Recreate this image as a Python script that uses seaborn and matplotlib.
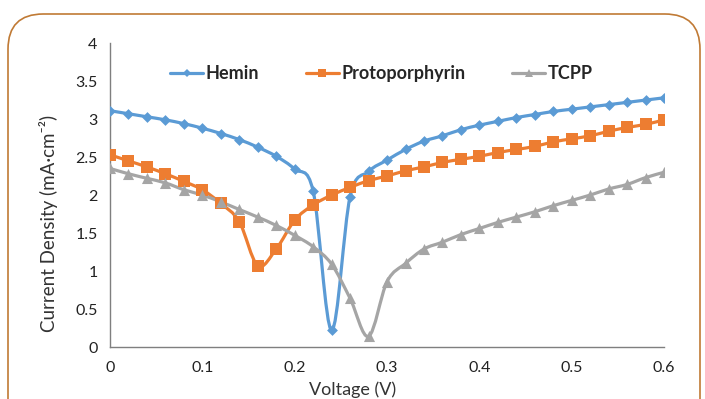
import numpy as np
import pandas as pd
import seaborn as sns
import matplotlib
matplotlib.use("Agg")
import matplotlib.pyplot as plt
from matplotlib.path import Path
from matplotlib.patches import PathPatch, FancyBboxPatch
from matplotlib.lines import Line2D

# Voltage sweep (V)
voltage = [round(0.02 * i, 2) for i in range(31)]

# Current density (mA·cm⁻²)
hemin = [3.11, 3.07, 3.03, 2.99, 2.94, 2.88, 2.81, 2.73, 2.63, 2.51, 2.34,
         2.05, 0.22, 1.98, 2.31, 2.46, 2.60, 2.71, 2.78, 2.86, 2.92, 2.97,
         3.02, 3.06, 3.10, 3.13, 3.16, 3.19, 3.22, 3.25, 3.28]
protoporphyrin = [2.53, 2.45, 2.37, 2.28, 2.18, 2.07, 1.89, 1.65, 1.07, 1.29,
                  1.67, 1.87, 2.00, 2.10, 2.19, 2.25, 2.32, 2.37, 2.43, 2.47,
                  2.51, 2.56, 2.60, 2.64, 2.70, 2.74, 2.78, 2.84, 2.89, 2.93,
                  2.99]
tcpp = [2.35, 2.28, 2.22, 2.16, 2.07, 2.00, 1.91, 1.81, 1.71, 1.60, 1.47,
        1.32, 1.09, 0.64, 0.14, 0.86, 1.10, 1.29, 1.38, 1.48, 1.56, 1.64,
        1.71, 1.78, 1.86, 1.93, 2.00, 2.08, 2.14, 2.23, 2.30]

series_names = ["Hemin", "Protoporphyrin", "TCPP"]
series_values = [hemin, protoporphyrin, tcpp]
x_tick_labels = ["0", "0.1", "0.2", "0.3", "0.4", "0.5", "0.6"]
y_tick_labels = ["0", "0.5", "1", "1.5", "2", "2.5", "3", "3.5", "4"]

colors = {"Hemin": "#5B9BD5", "Protoporphyrin": "#ED7D31", "TCPP": "#A5A5A5"}
markers = {"Hemin": "D", "Protoporphyrin": "s", "TCPP": "^"}
marker_sizes = {"Hemin": 5.5, "Protoporphyrin": 8, "TCPP": 8}

df = pd.concat(
    [pd.DataFrame({"Voltage": voltage, "Current": v, "Sample": n})
     for n, v in zip(series_names, series_values)],
    ignore_index=True,
)

sns.set_theme(style="white")
plt.rcParams["font.family"] = ["Lato", "DejaVu Sans"]

fig = plt.figure(figsize=(7.05, 3.99), dpi=100)
ax = fig.add_axes([0.156, 0.1303, 0.786, 0.7617])


def smooth_path(xs, ys):
    """Catmull-Rom style smoothed curve through the points, as cubic Beziers."""
    p = np.column_stack([xs, ys])
    n = len(p)
    verts = [p[0]]
    codes = [Path.MOVETO]
    for i in range(n - 1):
        p0 = p[i - 1] if i > 0 else p[i]
        p1 = p[i]
        p2 = p[i + 1]
        p3 = p[i + 2] if i + 2 < n else p[i + 1]
        c1 = p1 + (p2 - p0) / 6.0
        c2 = p2 - (p3 - p1) / 6.0
        verts += [c1, c2, p2]
        codes += [Path.CURVE4] * 3
    return Path(verts, codes)


for name in series_names:
    sub = df[df["Sample"] == name]
    patch = PathPatch(smooth_path(sub["Voltage"].values, sub["Current"].values),
                      facecolor="none", edgecolor=colors[name], lw=2.3,
                      zorder=2, capstyle="round", joinstyle="round")
    ax.add_patch(patch)
    sns.scatterplot(data=sub, x="Voltage", y="Current", ax=ax,
                    color=colors[name], marker=markers[name],
                    s=marker_sizes[name] ** 2, linewidth=0, zorder=3,
                    legend=False)

ax.set_xlim(0, 0.6)
ax.set_ylim(0, 4)
ax.set_xticks(np.arange(0, 0.61, 0.1))
ax.set_xticklabels(x_tick_labels)
ax.set_yticks(np.arange(0, 4.01, 0.5))
ax.set_yticklabels(y_tick_labels)

for side in ["top", "right"]:
    ax.spines[side].set_visible(False)
for side in ["left", "bottom"]:
    ax.spines[side].set_color("#7F7F7F")
    ax.spines[side].set_linewidth(1.0)
ax.tick_params(axis="both", direction="out", length=4, width=1,
               color="#7F7F7F", labelsize=11.5, labelcolor="#222222")
ax.tick_params(axis="x", pad=6)
ax.tick_params(axis="y", pad=5)

ax.set_xlabel("Voltage (V)", fontsize=13, color="#333333")
ax.xaxis.set_label_coords(0.437, -0.112)
ax.set_ylabel("Current Density (mA·cm⁻²)", fontsize=13.5, color="#333333")
ax.yaxis.set_label_coords(-0.093, 0.408)

handles = [Line2D([], [], color=colors[n], lw=2.3, marker=markers[n],
                  markersize=marker_sizes[n] * 0.75, markeredgewidth=0)
           for n in series_names]
leg = ax.legend(handles, series_names, loc="center", ncol=3,
                bbox_to_anchor=(0.49, 0.90), frameon=False,
                handlelength=1.8, handletextpad=0.15, columnspacing=2.6,
                prop={"family": ["Lato", "DejaVu Sans"], "weight": "bold",
                      "size": 13})

# rounded frame around the chart
frame = FancyBboxPatch((8 / 705, -0.2), (700 - 8) / 705, (399 - 14) / 399 + 0.2,
                       boxstyle="round,pad=0,rounding_size=0.05",
                       transform=fig.transFigure, facecolor="none",
                       edgecolor="#C07A35", lw=1.2, zorder=0,
                       mutation_aspect=705 / 399)
fig.patches.append(frame)

fig.savefig("out.png", dpi=100)
